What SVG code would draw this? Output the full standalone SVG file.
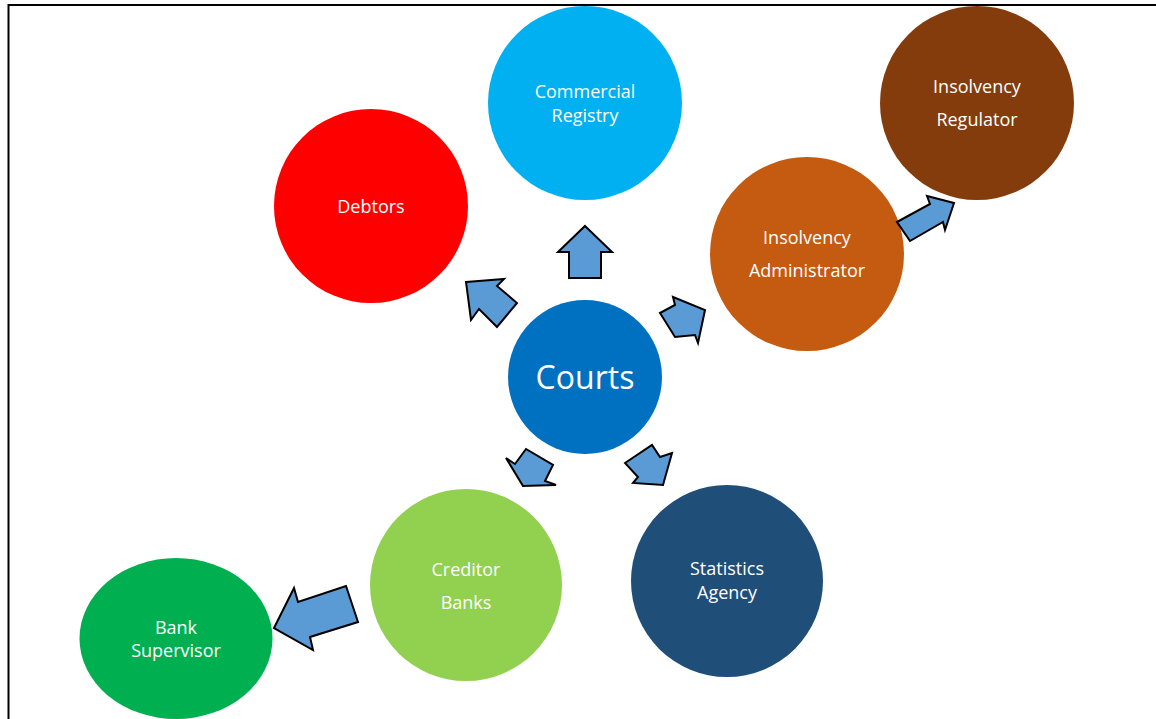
<svg xmlns="http://www.w3.org/2000/svg" width="1156" height="719" viewBox="0 0 1156 719">
<style>
.lbl{font-family:"Open Sans","Noto Sans",sans-serif;font-size:18px;fill:#fff;text-anchor:middle}
.big{font-family:"Open Sans","Noto Sans",sans-serif;font-size:32px;fill:#fff;text-anchor:middle}
.arr{fill:#5B9BD5;stroke:#000;stroke-width:2;stroke-linejoin:miter}
</style>
<rect width="1156" height="719" fill="#fff"/>
<path d="M8.5,719 V5 H1156" fill="none" stroke="#000" stroke-width="2"/>
<g id="commercial-registry">
<circle cx="585" cy="103" r="97" fill="#00B0F0"/>
<text class="lbl" x="585" y="98">Commercial</text>
<text class="lbl" x="585" y="122">Registry</text>
</g>
<g id="debtors">
<circle cx="371" cy="206" r="97" fill="#FF0000"/>
<text class="lbl" x="371" y="213">Debtors</text>
</g>
<g id="insolvency-regulator">
<circle cx="977" cy="103" r="97" fill="#843C0C"/>
<text class="lbl" x="977" y="93">Insolvency</text>
<text class="lbl" x="977" y="126">Regulator</text>
</g>
<g id="insolvency-administrator">
<circle cx="807" cy="254" r="97" fill="#C55A11"/>
<text class="lbl" x="807" y="244">Insolvency</text>
<text class="lbl" x="807" y="277">Administrator</text>
</g>
<g id="courts">
<circle cx="585" cy="377" r="77" fill="#0070C0"/>
<text class="big" x="585" y="389">Courts</text>
</g>
<g id="creditor-banks">
<circle cx="466" cy="585" r="96" fill="#92D050"/>
<text class="lbl" x="466" y="576">Creditor</text>
<text class="lbl" x="466" y="609">Banks</text>
</g>
<g id="statistics-agency">
<circle cx="727" cy="581" r="96" fill="#1F4E79"/>
<text class="lbl" x="727" y="575">Statistics</text>
<text class="lbl" x="727" y="599">Agency</text>
</g>
<g id="bank-supervisor">
<ellipse cx="176" cy="638.5" rx="96.5" ry="80.5" fill="#00B050"/>
<text class="lbl" x="176" y="634">Bank</text>
<text class="lbl" x="176" y="657">Supervisor</text>
</g>
<g id="connectors">
<polygon class="arr" points="585,226 612,252 601,252 601,278 569,278 569,252 558,252"/>
<polygon class="arr" points="466,282 504,279 497,286 517,303 497,327 479,309 471,320"/>
<polygon class="arr" points="660,313 675,305 673,297 705,310 698,343 695,335 675,337"/>
<polygon class="arr" points="897,222 930,204 927,196 954,203 945,230 943,222 910,241"/>
<polygon class="arr" points="506,458 515,464 526,449 553,465 545,481 556,485 523,486"/>
<polygon class="arr" points="625,463 652,445 660,457 672,453 663,485 633,483 638,477"/>
<polygon class="arr" points="274,628 294,588 298,602 346,586 358,622 310,637 313,650"/>
</g>
</svg>
